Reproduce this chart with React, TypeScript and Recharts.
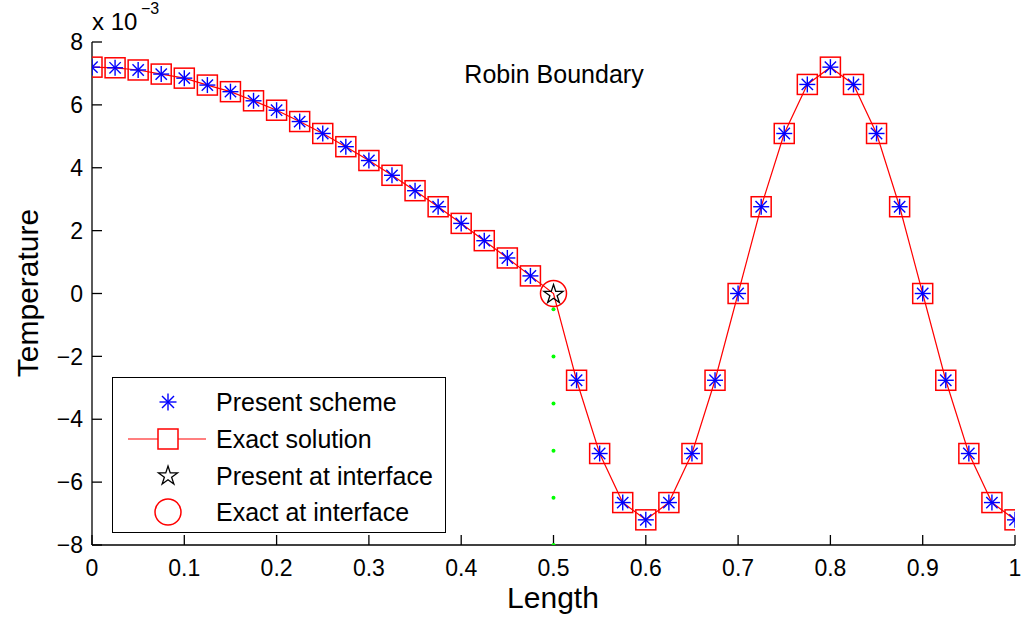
import { ComposedChart, Line, Scatter, XAxis, YAxis, Legend, Customized } from "recharts";

const lengthPoints = [
  0, 0.025, 0.05, 0.075, 0.1, 0.125, 0.15, 0.175, 0.2, 0.225, 0.25, 0.275, 0.3, 0.325, 0.35, 0.375, 0.4,
  0.425, 0.45, 0.475, 0.5, 0.525, 0.55, 0.575, 0.6, 0.625, 0.65, 0.675, 0.7, 0.725, 0.75, 0.775, 0.8,
  0.825, 0.85, 0.875, 0.9, 0.925, 0.95, 0.975, 1,
];

// temperature in units of 1e-3
const exactSolution = [
  7.2, 7.18, 7.11, 6.98, 6.85, 6.63, 6.42, 6.13, 5.83, 5.47, 5.09, 4.67, 4.23, 3.76, 3.27, 2.76, 2.23,
  1.68, 1.13, 0.56, 0, -2.76, -5.09, -6.65, -7.2, -6.65, -5.09, -2.76, 0, 2.76, 5.09, 6.65, 7.2,
  6.65, 5.09, 2.76, 0, -2.76, -5.09, -6.65, -7.2,
];

const presentScheme = [
  7.2, 7.18, 7.11, 6.98, 6.85, 6.63, 6.42, 6.13, 5.83, 5.47, 5.09, 4.67, 4.23, 3.76, 3.27, 2.76, 2.23,
  1.68, 1.13, 0.56, null, -2.76, -5.09, -6.65, -7.2, -6.65, -5.09, -2.76, 0, 2.76, 5.09, 6.65, 7.2,
  6.65, 5.09, 2.76, 0, -2.76, -5.09, -6.65, -7.2,
];

const interfaceLength = 0.5;
const presentAtInterface = [0];
const exactAtInterface = [0];
const interfaceGuide = [-0.5, -2, -3.5, -5, -6.5, -8];

const xTicks = [0, 0.1, 0.2, 0.3, 0.4, 0.5, 0.6, 0.7, 0.8, 0.9, 1];
const yTicks = [-8, -6, -4, -2, 0, 2, 4, 6, 8];

const legendLabels = ["Present scheme", "Exact solution", "Present at interface", "Exact at interface"];

const rows = lengthPoints.map((x, i) => ({ x, exact: exactSolution[i] }));
const presentRows = lengthPoints
  .map((x, i) => ({ x, y: presentScheme[i] }))
  .filter((d) => d.y !== null);
const starRows = presentAtInterface.map((y) => ({ x: interfaceLength, y }));
const circleRows = exactAtInterface.map((y) => ({ x: interfaceLength, y }));
const guideRows = interfaceGuide.map((y) => ({ x: interfaceLength, y }));

const FONT = "'Liberation Sans', Arial, Helvetica, sans-serif";
const RED = "#ff0000";
const BLUE = "#0000ff";

const Asterisk = ({ cx, cy, r = 8 }: { cx: number; cy: number; r?: number }) => {
  const d = r * 0.7071;
  return (
    <g stroke={BLUE} strokeWidth={1.4}>
      <line x1={cx - r} y1={cy} x2={cx + r} y2={cy} />
      <line x1={cx} y1={cy - r} x2={cx} y2={cy + r} />
      <line x1={cx - d} y1={cy - d} x2={cx + d} y2={cy + d} />
      <line x1={cx - d} y1={cy + d} x2={cx + d} y2={cy - d} />
    </g>
  );
};

const Square = ({ cx, cy, h = 10 }: { cx: number; cy: number; h?: number }) => (
  <rect x={cx - h} y={cy - h} width={h * 2} height={h * 2} fill="none" stroke={RED} strokeWidth={1.5} />
);

const Pentagram = ({ cx, cy, r = 10 }: { cx: number; cy: number; r?: number }) => {
  const pts: string[] = [];
  for (let k = 0; k < 10; k++) {
    const rad = k % 2 === 0 ? r : r * 0.38;
    const a = -Math.PI / 2 + (k * Math.PI) / 5;
    pts.push(`${cx + rad * Math.cos(a)},${cy + rad * Math.sin(a) + 1}`);
  }
  return <polygon points={pts.join(" ")} fill="none" stroke="#000" strokeWidth={1.3} />;
};

const Ring = ({ cx, cy, r = 13 }: { cx: number; cy: number; r?: number }) => (
  <circle cx={cx} cy={cy} r={r} fill="none" stroke={RED} strokeWidth={1.5} />
);

const LegendBox = () => (
  <svg width={334} height={156} style={{ display: "block", background: "#fff", border: "1.3px solid #000", boxSizing: "border-box" }}>
    <Asterisk cx={55} cy={24} r={8.5} />
    <line x1={15} y1={61} x2={93} y2={61} stroke={RED} strokeWidth={1.2} />
    <rect x={45} y={51} width={20} height={20} fill="#fff" stroke={RED} strokeWidth={1.5} />
    <Pentagram cx={55} cy={97} r={10} />
    <Ring cx={55} cy={134} r={13} />
    {legendLabels.map((t, i) => (
      <text key={t} x={103} y={[33, 70, 107, 143][i]} fontFamily={FONT} fontSize={25} fill="#000">
        {t}
      </text>
    ))}
  </svg>
);

const Annotations = () => (
  <g fontFamily={FONT} fill="#000">
    <text x={554} y={83} fontSize={25} textAnchor="middle">Robin Boundary</text>
    <text x={553} y={608} fontSize={30} textAnchor="middle">Length</text>
    <text x={38} y={293} fontSize={30} textAnchor="middle" transform="rotate(-90 38 293)">Temperature</text>
    <text x={92} y={30} fontSize={24}>x 10</text>
    <text x={141} y={14} fontSize={16}>−3</text>
  </g>
);

const tickStyle = { fontFamily: FONT, fontSize: 23, fill: "#000" };
const fmtY = (v: number) => (v < 0 ? `\u2212${Math.abs(v)}` : `${v}`);

export default function App() {
  return (
    <div style={{ position: "absolute", left: 0, top: 0, width: 1021, height: 623, background: "#fff" }}>
      <ComposedChart width={1021} height={623} data={rows} margin={{ top: 42, right: 6, bottom: 0, left: 0 }}>
        <XAxis
          dataKey="x"
          type="number"
          domain={[0, 1]}
          ticks={xTicks}
          height={78}
          tickSize={-10}
          tickMargin={25}
          tick={tickStyle}
          stroke="#000"
          strokeWidth={1.3}
          allowDataOverflow
        />
        <XAxis
          xAxisId="top"
          orientation="top"
          dataKey="x"
          type="number"
          domain={[0, 1]}
          ticks={xTicks}
          height={0}
          tickSize={-10}
          tickFormatter={() => ""}
          stroke="#000"
          strokeWidth={1.3}
          allowDataOverflow
        />
        <YAxis
          type="number"
          domain={[-8, 8]}
          ticks={yTicks}
          width={92}
          tickSize={-10}
          tickMargin={19}
          tick={tickStyle}
          tickFormatter={fmtY}
          stroke="#000"
          strokeWidth={1.3}
          allowDataOverflow
        />
        <YAxis
          yAxisId="right"
          orientation="right"
          type="number"
          domain={[-8, 8]}
          ticks={yTicks}
          width={0}
          tickSize={-10}
          tickFormatter={() => ""}
          stroke="#000"
          strokeWidth={1.3}
          allowDataOverflow
        />
        <Line
          dataKey="exact"
          type="linear"
          stroke={RED}
          strokeWidth={1.2}
          isAnimationActive={false}
          dot={(p: any) =>
            p.payload.x === interfaceLength ? (
              <g key={`d${p.index}`} />
            ) : (
              <Square key={`d${p.index}`} cx={p.cx} cy={p.cy} />
            )
          }
          activeDot={false}
        />
        <Scatter data={presentRows} dataKey="y" isAnimationActive={false} shape={(p: any) => <Asterisk cx={p.cx} cy={p.cy} />} />
        <Scatter data={guideRows} dataKey="y" isAnimationActive={false} shape={(p: any) => <circle cx={p.cx} cy={p.cy} r={2} fill="#00ff00" />} />
        <Scatter data={circleRows} dataKey="y" isAnimationActive={false} shape={(p: any) => <Ring cx={p.cx} cy={p.cy} />} />
        <Scatter data={starRows} dataKey="y" isAnimationActive={false} shape={(p: any) => <Pentagram cx={p.cx} cy={p.cy} />} />
        <Customized component={Annotations} />
        <Legend
          layout="vertical"
          align="center"
          verticalAlign="middle"
          wrapperStyle={{ left: 112, top: 377, width: 334, height: 156 }}
          content={() => <LegendBox />}
        />
      </ComposedChart>
    </div>
  );
}
